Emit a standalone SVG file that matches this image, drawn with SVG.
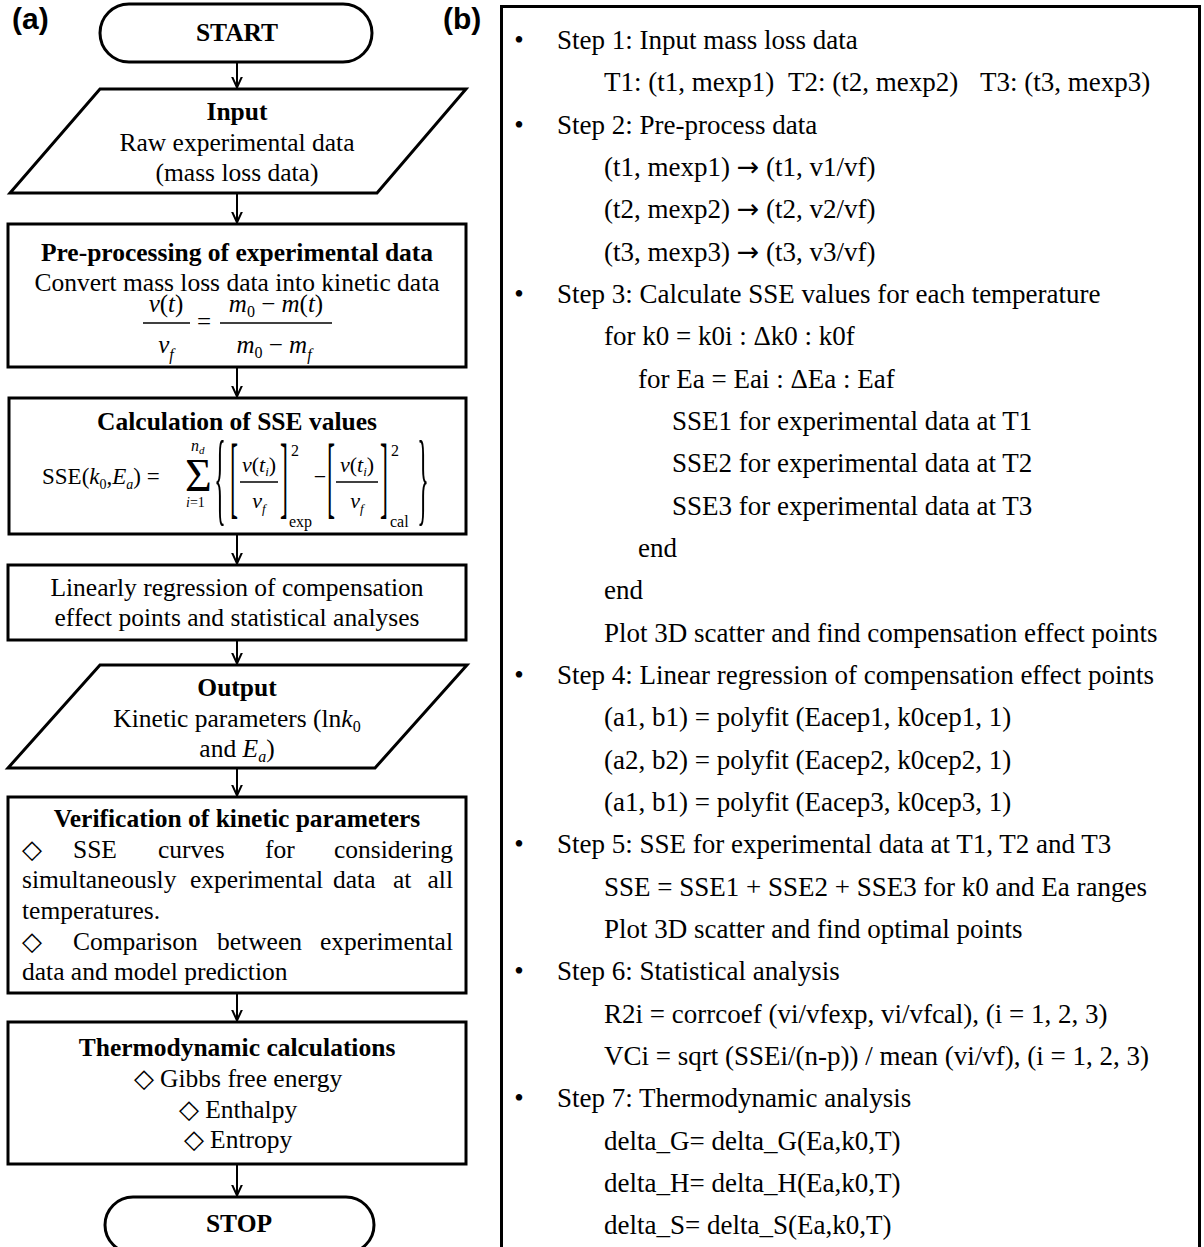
<svg xmlns="http://www.w3.org/2000/svg" width="1204" height="1247" viewBox="0 0 1204 1247">
<defs>
<style>
.t{font-family:"Liberation Serif","Times New Roman",serif;font-size:25.5px;fill:#000}
.b{font-weight:bold}
.c{text-anchor:middle}
.e{text-anchor:end}
.i{font-style:italic}
.r{font-family:"Liberation Serif","Times New Roman",serif;font-size:27px;fill:#000}
.m{font-family:"Liberation Serif","Times New Roman",serif;fill:#000}
.ar{font-family:"DejaVu Sans",sans-serif}
.lab{font-family:"Liberation Sans",Arial,sans-serif;font-size:30px;font-weight:bold;fill:#000}
.shape{fill:#fff;stroke:#000;stroke-width:3}
.conn{stroke:#000;stroke-width:2;fill:none;marker-end:url(#arr)}
.bar{stroke:#000;stroke-width:1.5}
</style>
<marker id="arr" markerUnits="userSpaceOnUse" markerWidth="12" markerHeight="12" viewBox="0 0 12 12" refX="11" refY="6" orient="auto">
<path d="M0,1 L11,6 L0,11" fill="none" stroke="#000" stroke-width="2"/>
</marker>
</defs>
<rect width="1204" height="1247" fill="#fff"/>

<text class="lab" x="12" y="29">(a)</text>
<text class="lab" x="443" y="29">(b)</text>

<g id="connectors">
<line class="conn" x1="237" y1="62" x2="237" y2="87.5"/>
<line class="conn" x1="237" y1="193" x2="237" y2="222.5"/>
<line class="conn" x1="237" y1="367" x2="237" y2="396.5"/>
<line class="conn" x1="237" y1="534" x2="237" y2="563.5"/>
<line class="conn" x1="237" y1="640" x2="237" y2="663.5"/>
<line class="conn" x1="237" y1="768" x2="237" y2="795.5"/>
<line class="conn" x1="237" y1="993" x2="237" y2="1020.5"/>
<line class="conn" x1="237" y1="1164" x2="237" y2="1195.5"/>
</g>

<g id="start">
<rect class="shape" x="100" y="4" width="272" height="58" rx="29"/>
<text class="t b c" x="237" y="41">START</text>
</g>

<g id="input">
<polygon class="shape" points="100,89 466,89 377,193 10,193"/>
<text class="t b c" x="237" y="120">Input</text>
<text class="t c" x="237" y="151">Raw experimental data</text>
<text class="t c" x="237" y="181">(mass loss data)</text>
</g>

<g id="preprocessing">
<rect class="shape" x="8" y="224" width="458" height="143"/>
<text class="t b c" x="237" y="261">Pre-processing of experimental data</text>
<text class="t c" x="237" y="291">Convert mass loss data into kinetic data</text>
<text class="m c" x="166" y="312" style="font-size:25px"><tspan class="i">v</tspan>(<tspan class="i">t</tspan>)</text>
<line class="bar" x1="143" y1="323" x2="190" y2="323"/>
<text class="m c" x="166" y="353" style="font-size:25px"><tspan class="i">v</tspan><tspan class="i" style="font-size:16px" dy="7">f</tspan></text>
<text class="m c" x="204" y="330" style="font-size:25px">=</text>
<text class="m c" x="276" y="312" style="font-size:25px"><tspan class="i">m</tspan><tspan style="font-size:16px" dy="5">0</tspan><tspan dy="-5"> − </tspan><tspan class="i">m</tspan>(<tspan class="i">t</tspan>)</text>
<line class="bar" x1="220" y1="323" x2="332" y2="323"/>
<text class="m c" x="274" y="353" style="font-size:25px"><tspan class="i">m</tspan><tspan style="font-size:16px" dy="5">0</tspan><tspan dy="-5"> − </tspan><tspan class="i">m</tspan><tspan class="i" style="font-size:16px" dy="7">f</tspan></text>
</g>

<g id="sse">
<rect class="shape" x="9" y="398" width="457" height="136"/>
<text class="t b c" x="237" y="430">Calculation of SSE values</text>
<text class="m" x="42" y="484" style="font-size:23px">SSE(<tspan class="i">k</tspan><tspan style="font-size:14px" dy="5">0</tspan><tspan dy="-5">,</tspan><tspan class="i">E</tspan><tspan class="i" style="font-size:14px" dy="5">a</tspan><tspan dy="-5">) =</tspan></text>
<text class="m" x="185" y="491" style="font-size:46px">Σ</text>
<text class="m i" x="191" y="451" style="font-size:16px">n<tspan style="font-size:11px" dy="3">d</tspan></text>
<text class="m" x="186" y="507" style="font-size:14px"><tspan class="i">i</tspan>=1</text>
<text class="m c" transform="translate(220,486) scale(1,4.3)" y="6" style="font-size:24px">{</text>
<text class="m c" transform="translate(234,484) scale(1,3.8)" y="6" style="font-size:24px">[</text>
<text class="m c" x="259" y="472" style="font-size:22px"><tspan class="i">v</tspan>(<tspan class="i">t</tspan><tspan class="i" style="font-size:13px" dy="4">i</tspan><tspan dy="-4">)</tspan></text>
<line class="bar" x1="240" y1="482" x2="278" y2="482"/>
<text class="m c" x="259" y="508" style="font-size:22px"><tspan class="i">v</tspan><tspan class="i" style="font-size:13px" dy="5">f</tspan></text>
<text class="m c" transform="translate(284,484) scale(1,3.8)" y="6" style="font-size:24px">]</text>
<text class="m" x="291" y="456" style="font-size:16px">2</text>
<text class="m" x="289" y="527" style="font-size:16px">exp</text>
<text class="m c" x="320" y="484" style="font-size:22px">−</text>
<text class="m c" transform="translate(331,484) scale(1,3.8)" y="6" style="font-size:24px">[</text>
<text class="m c" x="357" y="472" style="font-size:22px"><tspan class="i">v</tspan>(<tspan class="i">t</tspan><tspan class="i" style="font-size:13px" dy="4">i</tspan><tspan dy="-4">)</tspan></text>
<line class="bar" x1="336" y1="482" x2="378" y2="482"/>
<text class="m c" x="357" y="508" style="font-size:22px"><tspan class="i">v</tspan><tspan class="i" style="font-size:13px" dy="5">f</tspan></text>
<text class="m c" transform="translate(384,484) scale(1,3.8)" y="6" style="font-size:24px">]</text>
<text class="m" x="391" y="456" style="font-size:16px">2</text>
<text class="m" x="390" y="527" style="font-size:16px">cal</text>
<text class="m c" transform="translate(423,486) scale(1,4.3)" y="6" style="font-size:24px">}</text>
</g>

<g id="regression">
<rect class="shape" x="8" y="565" width="458" height="75"/>
<text class="t c" x="237" y="596">Linearly regression of compensation</text>
<text class="t c" x="237" y="626">effect points and statistical analyses</text>
</g>

<g id="output">
<polygon class="shape" points="100,665 467,665 375,768 8,768"/>
<text class="t b c" x="237" y="696">Output</text>
<text class="t c" x="237" y="727">Kinetic parameters (ln<tspan class="i">k</tspan><tspan style="font-size:16px" dy="5">0</tspan></text>
<text class="t c" x="237" y="757">and <tspan class="i">E</tspan><tspan class="i" style="font-size:16px" dy="5">a</tspan><tspan dy="-5">)</tspan></text>
</g>

<g id="verification">
<rect class="shape" x="8" y="797" width="458" height="196"/>
<text class="t b c" x="237" y="827">Verification of kinetic parameters</text>
<text class="t" x="22" y="858">◇</text>
<text class="t" x="73" y="858">SSE</text>
<text class="t" x="158" y="858">curves</text>
<text class="t" x="265" y="858">for</text>
<text class="t e" x="453" y="858">considering</text>
<text class="t" x="22" y="888">simultaneously</text>
<text class="t" x="190" y="888">experimental</text>
<text class="t" x="333" y="888">data</text>
<text class="t" x="393" y="888">at</text>
<text class="t e" x="453" y="888">all</text>
<text class="t" x="22" y="919">temperatures.</text>
<text class="t" x="22" y="950">◇</text>
<text class="t" x="73" y="950">Comparison</text>
<text class="t" x="217" y="950">between</text>
<text class="t e" x="453" y="950">experimental</text>
<text class="t" x="22" y="980">data and model prediction</text>
</g>

<g id="thermodynamic">
<rect class="shape" x="8" y="1022" width="458" height="142"/>
<text class="t b c" x="237" y="1056">Thermodynamic calculations</text>
<text class="t c" x="238" y="1087">◇ Gibbs free energy</text>
<text class="t c" x="238" y="1118">◇ Enthalpy</text>
<text class="t c" x="238" y="1148">◇ Entropy</text>
</g>

<g id="stop">
<rect class="shape" x="105" y="1197" width="269" height="56" rx="28"/>
<text class="t b c" x="239" y="1232">STOP</text>
</g>

<g id="algorithm">
<rect x="501.5" y="6.5" width="698" height="1270" fill="none" stroke="#000" stroke-width="3"/>
<g class="r">
<text x="519" y="49" text-anchor="middle">•</text>
<text x="557" y="49">Step 1: Input mass loss data</text>
<text x="604" y="91">T1: (t1, mexp1)</text>
<text x="788" y="91">T2: (t2, mexp2)</text>
<text x="980" y="91">T3: (t3, mexp3)</text>
<text x="519" y="134" text-anchor="middle">•</text>
<text x="557" y="134">Step 2: Pre-process data</text>
<text x="604" y="176">(t1, mexp1) <tspan class="ar">→</tspan> (t1, v1/vf)</text>
<text x="604" y="218">(t2, mexp2) <tspan class="ar">→</tspan> (t2, v2/vf)</text>
<text x="604" y="261">(t3, mexp3) <tspan class="ar">→</tspan> (t3, v3/vf)</text>
<text x="519" y="303" text-anchor="middle">•</text>
<text x="557" y="303">Step 3: Calculate SSE values for each temperature</text>
<text x="604" y="345">for k0 = k0i : Δk0 : k0f</text>
<text x="638" y="388">for Ea = Eai : ΔEa : Eaf</text>
<text x="672" y="430">SSE1 for experimental data at T1</text>
<text x="672" y="472">SSE2 for experimental data at T2</text>
<text x="672" y="515">SSE3 for experimental data at T3</text>
<text x="638" y="557">end</text>
<text x="604" y="599">end</text>
<text x="604" y="642">Plot 3D scatter and find compensation effect points</text>
<text x="519" y="684" text-anchor="middle">•</text>
<text x="557" y="684">Step 4: Linear regression of compensation effect points</text>
<text x="604" y="726">(a1, b1) = polyfit (Eacep1, k0cep1, 1)</text>
<text x="604" y="769">(a2, b2) = polyfit (Eacep2, k0cep2, 1)</text>
<text x="604" y="811">(a1, b1) = polyfit (Eacep3, k0cep3, 1)</text>
<text x="519" y="853" text-anchor="middle">•</text>
<text x="557" y="853">Step 5: SSE for experimental data at T1, T2 and T3</text>
<text x="604" y="896">SSE = SSE1 + SSE2 + SSE3 for k0 and Ea ranges</text>
<text x="604" y="938">Plot 3D scatter and find optimal points</text>
<text x="519" y="980" text-anchor="middle">•</text>
<text x="557" y="980">Step 6: Statistical analysis</text>
<text x="604" y="1023">R2i = corrcoef (vi/vfexp, vi/vfcal), (i = 1, 2, 3)</text>
<text x="604" y="1065">VCi = sqrt (SSEi/(n-p)) / mean (vi/vf), (i = 1, 2, 3)</text>
<text x="519" y="1107" text-anchor="middle">•</text>
<text x="557" y="1107">Step 7: Thermodynamic analysis</text>
<text x="604" y="1150">delta_G= delta_G(Ea,k0,T)</text>
<text x="604" y="1192">delta_H= delta_H(Ea,k0,T)</text>
<text x="604" y="1234">delta_S= delta_S(Ea,k0,T)</text>
</g>
</g>
</svg>
